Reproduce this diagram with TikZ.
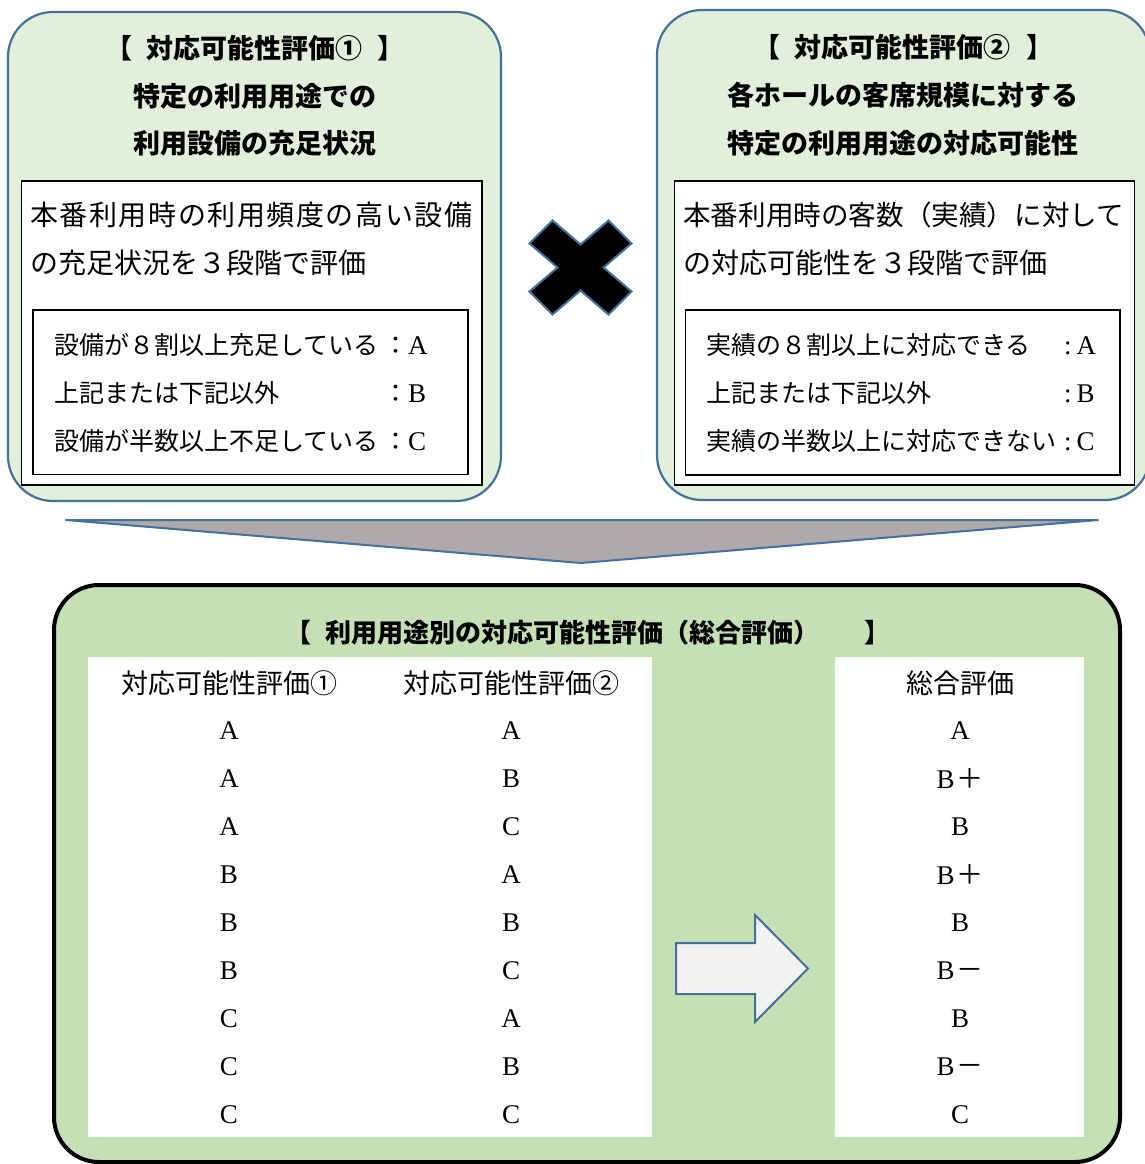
\documentclass[tikz,border=0pt]{standalone}
\usepackage{fontspec}
\newfontfamily\jp{Noto Sans CJK JP}
\newfontfamily\lat{Liberation Serif}
\definecolor{lgreen}{HTML}{E2EFDA}
\definecolor{mgreen}{HTML}{C5E0B4}
\definecolor{bordblue}{HTML}{41719C}
\definecolor{funnelgray}{HTML}{AEAAAA}
\definecolor{arrowfill}{HTML}{F2F2F2}
\newcommand\Bplus{B\hspace{2pt}{\jp ＋}}
\newcommand\Bminus{B\hspace{2pt}{\jp －}}
\newcommand\hf{\hfill{}}
\newcommand\ltr[1]{{\lat\fontsize{27}{30}\selectfont #1}}
\tikzset{
  outerbox/.style={draw=bordblue, line width=2.2pt, fill=lgreen, rounded corners=45pt},
  whitebox/.style={draw=black, line width=1.3pt, fill=white},
  framebox/.style={draw=black, line width=1.3pt},
  bigbox/.style={draw=black, line width=4pt, fill=mgreen, rounded corners=45pt},
  head/.style={font=\jp\bfseries\fontsize{27}{32}\selectfont, inner sep=0pt},
  body/.style={font=\jp\fontsize{28}{34}\selectfont, anchor=west, inner sep=0pt},
  itemtxt/.style={font=\jp\fontsize{25}{30}\selectfont, anchor=west, inner sep=0pt},
  colhead/.style={font=\jp\fontsize{27}{32}\selectfont, inner sep=0pt},
  cell/.style={font=\lat\fontsize{27}{32}\selectfont, inner sep=0pt},
  shapeline/.style={draw=bordblue, line width=2pt, line join=miter},
}
\begin{document}
\begin{tikzpicture}[x=1pt,y=-1pt]
\useasboundingbox (0,0) rectangle (1144,1164);
\fill[white] (0,0) rectangle (1144,1164);

% ---------- top left panel ----------
\draw[outerbox] (8,12) rectangle (501,501);
\draw[whitebox] (21.5,181) rectangle (482,485);
\draw[framebox] (33,310) rectangle (468,474.5);
\node[head] (t1a) at (255,48) {【\hspace{15pt}対応可能性評価①\hspace{15pt}】};
\node[head] (t1b) at (255,96) {特定の利用用途での};
\node[head] (t1c) at (255,143) {利用設備の充足状況};
\node[body] (b1a) at (30,215) {\makebox[442pt][s]{本\hf 番\hf 利\hf 用\hf 時\hf の\hf 利\hf 用\hf 頻\hf 度\hf の\hf 高\hf い\hf 設\hf 備}};
\node[body] (b1b) at (30,263) {の充足状況を３段階で評価};
\node[itemtxt] (i1a) at (54,345) {\makebox[329pt][l]{設備が８割以上充足している}：\ltr{A}};
\node[itemtxt] (i1b) at (54,393) {\makebox[329pt][l]{上記または下記以外}：\ltr{B}};
\node[itemtxt] (i1c) at (54,441) {\makebox[329pt][l]{設備が半数以上不足している}：\ltr{C}};

% ---------- top right panel ----------
\draw[outerbox] (657,10) rectangle (1150,500);
\draw[whitebox] (674.5,181) rectangle (1134.5,485);
\draw[framebox] (685.5,310) rectangle (1120,475);
\node[head] (t2a) at (903,47) {【\hspace{15pt}対応可能性評価②\hspace{15pt}】};
\node[head] (t2b) at (903,95) {各ホールの客席規模に対する};
\node[head] (t2c) at (903,143) {特定の利用用途の対応可能性};
\node[body, font=\jp\fontsize{27.6}{34}\selectfont] (b2a) at (683,215) {本番利用時の客数（実績）に対して};
\node[body] (b2b) at (683,263) {の対応可能性を３段階で評価};
\node[itemtxt] (i2a) at (706,345) {\makebox[358pt][l]{実績の８割以上に対応できる}\ltr{:\hspace{5pt}A}};
\node[itemtxt] (i2b) at (706,393) {\makebox[358pt][l]{上記または下記以外}\ltr{:\hspace{5pt}B}};
\node[itemtxt] (i2c) at (706,441) {\makebox[358pt][l]{実績の半数以上に対応できない}\ltr{:\hspace{5pt}C}};

% ---------- cross ----------
\draw[shapeline, fill=black, shift={(580.5,267.5)}]
  (-51,-24) -- (-28,-47) -- (0,-23) -- (28,-47) -- (51,-24) -- (23,0)
  -- (51,24) -- (28,47) -- (0,23) -- (-28,47) -- (-51,24) -- (-23,0) -- cycle;

% ---------- funnel ----------
\draw[shapeline, fill=funnelgray, line join=round] (66,520) -- (1098,520) -- (581,563) -- cycle;

% ---------- bottom panel ----------
\draw[bigbox] (54,585) rectangle (1120,1162);
\fill[white] (88,657) rectangle (652,1137);
\fill[white] (835,657) rectangle (1084,1137);
\node[head, font=\jp\bfseries\fontsize{26}{32}\selectfont] (t3) at (588,633) {【\hspace{15pt}利用用途別の対応可能性評価（総合評価）\hspace{45pt}】};
\node[colhead] (h1) at (229,683) {対応可能性評価①};
\node[colhead] (h2) at (511,683) {対応可能性評価②};
\node[colhead] (h3) at (960,683) {総合評価};
\foreach \p/\q/\r [count=\i] in {A/A/A, A/B/\Bplus, A/C/B, B/A/\Bplus, B/B/B, B/C/\Bminus, C/A/B, C/B/\Bminus, C/C/C} {
  \node[cell] (p\i) at (229,{683+48*\i}) {\p};
  \node[cell] (q\i) at (511,{683+48*\i}) {\q};
  \node[cell] (r\i) at (960,{683+48*\i}) {\r};
}

% ---------- block arrow ----------
\draw[shapeline, fill=arrowfill] (676,943) -- (755,943) -- (755,915) -- (808,968.5)
  -- (755,1022) -- (755,994) -- (676,994) -- cycle;
\end{tikzpicture}
\end{document}
